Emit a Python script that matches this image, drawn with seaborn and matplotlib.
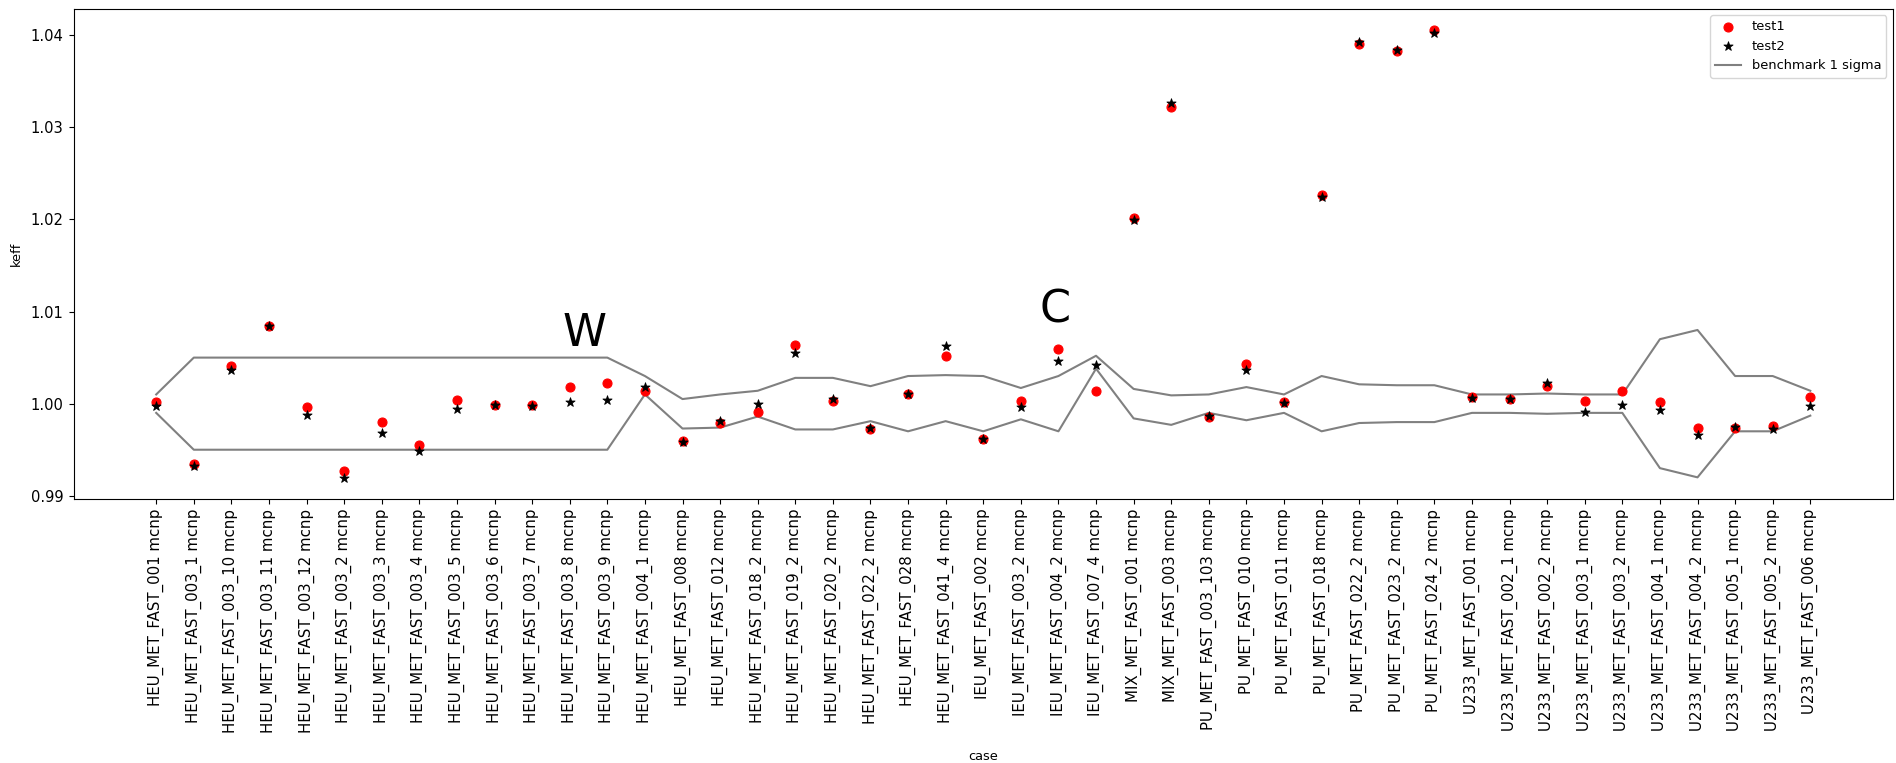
import matplotlib
matplotlib.use("Agg")
import matplotlib.pyplot as plt
import seaborn as sns

cases = [
    "HEU_MET_FAST_001 mcnp", "HEU_MET_FAST_003_1 mcnp", "HEU_MET_FAST_003_10 mcnp",
    "HEU_MET_FAST_003_11 mcnp", "HEU_MET_FAST_003_12 mcnp", "HEU_MET_FAST_003_2 mcnp",
    "HEU_MET_FAST_003_3 mcnp", "HEU_MET_FAST_003_4 mcnp", "HEU_MET_FAST_003_5 mcnp",
    "HEU_MET_FAST_003_6 mcnp", "HEU_MET_FAST_003_7 mcnp", "HEU_MET_FAST_003_8 mcnp",
    "HEU_MET_FAST_003_9 mcnp", "HEU_MET_FAST_004_1 mcnp", "HEU_MET_FAST_008 mcnp",
    "HEU_MET_FAST_012 mcnp", "HEU_MET_FAST_018_2 mcnp", "HEU_MET_FAST_019_2 mcnp",
    "HEU_MET_FAST_020_2 mcnp", "HEU_MET_FAST_022_2 mcnp", "HEU_MET_FAST_028 mcnp",
    "HEU_MET_FAST_041_4 mcnp", "IEU_MET_FAST_002 mcnp", "IEU_MET_FAST_003_2 mcnp",
    "IEU_MET_FAST_004_2 mcnp", "IEU_MET_FAST_007_4 mcnp", "MIX_MET_FAST_001 mcnp",
    "MIX_MET_FAST_003 mcnp", "PU_MET_FAST_003_103 mcnp", "PU_MET_FAST_010 mcnp",
    "PU_MET_FAST_011 mcnp", "PU_MET_FAST_018 mcnp", "PU_MET_FAST_022_2 mcnp",
    "PU_MET_FAST_023_2 mcnp", "PU_MET_FAST_024_2 mcnp", "U233_MET_FAST_001 mcnp",
    "U233_MET_FAST_002_1 mcnp", "U233_MET_FAST_002_2 mcnp", "U233_MET_FAST_003_1 mcnp",
    "U233_MET_FAST_003_2 mcnp", "U233_MET_FAST_004_1 mcnp", "U233_MET_FAST_004_2 mcnp",
    "U233_MET_FAST_005_1 mcnp", "U233_MET_FAST_005_2 mcnp", "U233_MET_FAST_006 mcnp",
]

test1 = [
    1.0002, 0.9935, 1.0041, 1.0084, 0.9996, 0.9927, 0.9980, 0.9955, 1.0004, 0.9999,
    0.9999, 1.0018, 1.0022, 1.0014, 0.9960, 0.9979, 0.9991, 1.0064, 1.0003, 0.9973,
    1.0011, 1.0052, 0.9962, 1.0003, 1.0059, 1.0014, 1.0202, 1.0322, 0.9986, 1.0043,
    1.0002, 1.0227, 1.0390, 1.0383, 1.0406, 1.0007, 1.0005, 1.0019, 1.0003, 1.0014,
    1.0002, 0.9974, 0.9974, 0.9976, 1.0007,
]

test2 = [
    0.9998, 0.9932, 1.0037, 1.0084, 0.9988, 0.9919, 0.9968, 0.9949, 0.9994, 0.9999,
    0.9998, 1.0002, 1.0004, 1.0018, 0.9958, 0.9981, 1.0000, 1.0055, 1.0005, 0.9974,
    1.0011, 1.0063, 0.9962, 0.9996, 1.0046, 1.0042, 1.0199, 1.0326, 0.9987, 1.0037,
    1.0001, 1.0224, 1.0393, 1.0384, 1.0402, 1.0006, 1.0005, 1.0022, 0.9991, 0.9999,
    0.9993, 0.9966, 0.9975, 0.9972, 0.9998,
]

bench_upper = [
    1.0010, 1.0050, 1.0050, 1.0050, 1.0050, 1.0050, 1.0050, 1.0050, 1.0050, 1.0050,
    1.0050, 1.0050, 1.0050, 1.0030, 1.0005, 1.0010, 1.0014, 1.0028, 1.0028, 1.0019,
    1.0030, 1.0031, 1.0030, 1.0017, 1.0030, 1.0052, 1.0016, 1.0009, 1.0010, 1.0018,
    1.0010, 1.0030, 1.0021, 1.0020, 1.0020, 1.0010, 1.0010, 1.0011, 1.0010, 1.0010,
    1.0070, 1.0080, 1.0030, 1.0030, 1.0014,
]

bench_lower = [
    0.9990, 0.9950, 0.9950, 0.9950, 0.9950, 0.9950, 0.9950, 0.9950, 0.9950, 0.9950,
    0.9950, 0.9950, 0.9950, 1.0010, 0.9973, 0.9974, 0.9986, 0.9972, 0.9972, 0.9981,
    0.9970, 0.9981, 0.9970, 0.9983, 0.9970, 1.0038, 0.9984, 0.9977, 0.9990, 0.9982,
    0.9990, 0.9970, 0.9979, 0.9980, 0.9980, 0.9990, 0.9990, 0.9989, 0.9990, 0.9990,
    0.9930, 0.9920, 0.9970, 0.9970, 0.9987,
]

annotations = [("W", 10.8, 1.0063), ("C", 23.5, 1.0088)]

fig = plt.figure(figsize=(18.96, 7.63), dpi=100)
ax = fig.add_axes([73.5 / 1896, 1 - 499 / 763, (1893 - 73.5) / 1896, (499 - 8.5) / 763])

sns.scatterplot(x=cases, y=test1, color="red", marker="o", s=42,
                edgecolor="red", linewidth=0.8, label="test1", ax=ax, zorder=3)
sns.scatterplot(x=cases, y=test2, color="black", marker="*", s=48,
                edgecolor="black", linewidth=0.6, label="test2", ax=ax, zorder=4)
sns.lineplot(x=cases, y=bench_upper, color="grey", linewidth=1.5, sort=False,
             estimator=None, label="benchmark 1 sigma", ax=ax, zorder=2)
sns.lineplot(x=cases, y=bench_lower, color="grey", linewidth=1.5, sort=False,
             estimator=None, ax=ax, zorder=2)

for txt, xx, yy in annotations:
    ax.text(xx, yy, txt, fontsize=32, color="black", family="DejaVu Sans")

ax.set_xlim(-2.2, 46.2)
ax.set_ylim(0.98965, 1.04290)
ax.set_yticks([0.99, 1.00, 1.01, 1.02, 1.03, 1.04])
ax.set_yticklabels(["0.99", "1.00", "1.01", "1.02", "1.03", "1.04"])
ax.tick_params(axis="x", labelrotation=90, labelsize=10.8, direction="out", length=3.5)
ax.tick_params(axis="y", labelsize=10.6, direction="out", length=3.5)
ax.set_xlabel("case", fontsize=9.4, labelpad=12)
ax.set_ylabel("keff", fontsize=9.4, labelpad=6)
ax.grid(False)
ax.set_facecolor("white")
for sp in ax.spines.values():
    sp.set_visible(True)
    sp.set_color("black")
    sp.set_linewidth(0.8)

ax.legend(loc="upper right", fontsize=9.4, frameon=True)

fig.savefig("out.png", dpi=100)
